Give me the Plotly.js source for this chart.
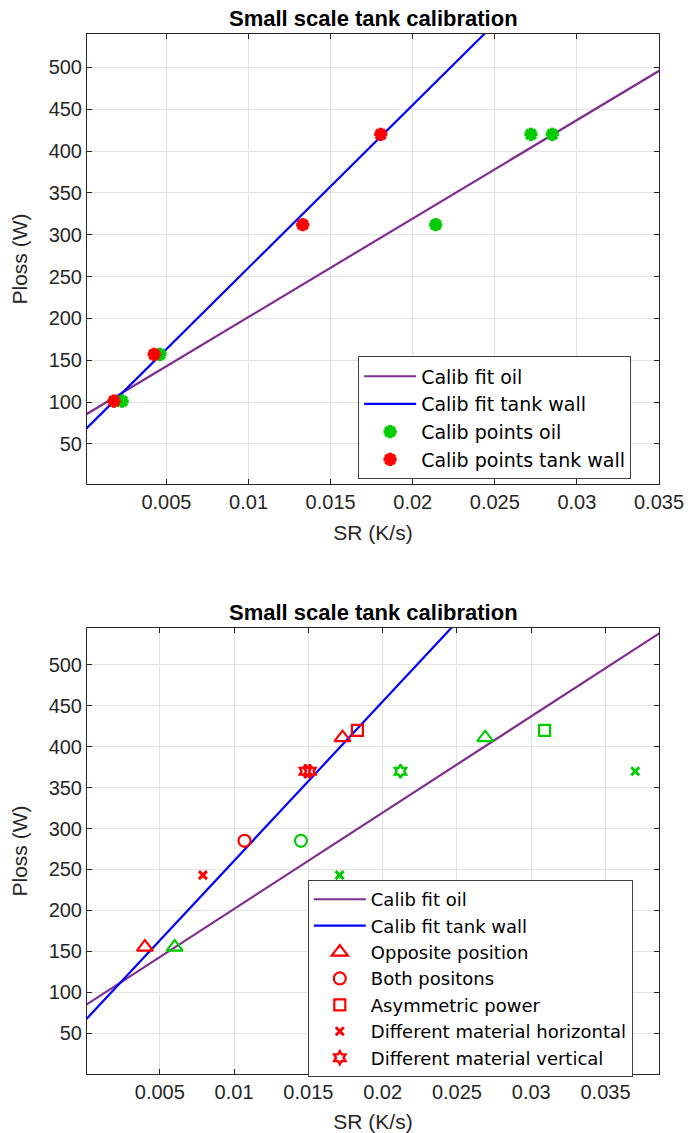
<!DOCTYPE html>
<html>
<head>
<meta charset="utf-8">
<script src="https://cdn.plot.ly/plotly-3.0.1.min.js"></script>
<style>html,body{margin:0;padding:0;background:#fff;}#chart{width:699px;height:1133px;}</style>
</head>
<body>
<div id="chart"></div>
<script>
// ---- Fit parameters (Ploss = intercept + slope * SR) ----
const fitNames = ['Calib fit oil', 'Calib fit tank wall'];
const fitIntercept = [84, 66];
const fitSlope = [11770, 19460];
const fitXSpan = [0, 0.04];

// ---- Top chart: calibration points ----
const calibOilSR = [0.0023, 0.0046, 0.0214, 0.0272, 0.0285];
const calibOilP  = [101, 157, 312, 420, 420];
const calibWallSR = [0.0018, 0.00425, 0.0133, 0.01805];
const calibWallP  = [101, 157, 312, 420];

// ---- Bottom chart: validation points (tank wall = red, oil = green) ----
const oppWallSR = [0.0040, 0.0173]; const oppWallP = [155, 411];
const oppOilSR  = [0.0060, 0.0269]; const oppOilP  = [155, 411];
const bothWallSR = [0.0107]; const bothWallP = [285];
const bothOilSR  = [0.0145]; const bothOilP  = [285];
const asymWallSR = [0.0183]; const asymWallP = [420];
const asymOilSR  = [0.0309]; const asymOilP  = [420];
const horWallSR = [0.0079]; const horWallP = [243];
const horOilSR  = [0.0171, 0.0370]; const horOilP  = [243, 370];
const vertWallSR = [0.0148, 0.0151]; const vertWallP = [370, 370];
const vertOilSR  = [0.0212]; const vertOilP  = [370];

const xTicks = [0.005, 0.01, 0.015, 0.02, 0.025, 0.03, 0.035];
const xTickText = ['0.005', '0.01', '0.015', '0.02', '0.025', '0.03', '0.035'];
const yTicks = [50, 100, 150, 200, 250, 300, 350, 400, 450, 500];

const titleText = 'Small scale tank calibration';
const xTitle = 'SR (K/s)';
const yTitle = 'Ploss (W)';

const purple = '#7E2F8E', blue = '#0000FF', red = '#FF0000', green = '#00CC00';
const FONT = 'Liberation Sans, Arial, Helvetica, sans-serif';
const LFONT = 'DejaVu Sans, Liberation Sans, Arial, sans-serif';
const axisCol = '#262626';

function fitLine(i, xa, ya, legend, show) {
  const xs = fitXSpan.slice();
  const ys = xs.map(x => fitIntercept[i] + fitSlope[i] * x);
  return {x: xs, y: ys, mode: 'lines', name: fitNames[i], xaxis: xa, yaxis: ya,
    line: {color: i === 0 ? purple : blue, width: 2.2}, legend: legend, showlegend: show,
    legendgroup: legend + 'g' + i, hoverinfo: 'skip'};
}
function pts(x, y, name, sym, col, size, xa, ya, legend, show, grp, lw) {
  return {x: x, y: y, mode: 'markers', name: name, xaxis: xa, yaxis: ya, legend: legend,
    showlegend: show, legendgroup: grp, cliponaxis: false,
    marker: {symbol: sym, size: size, color: col, line: {color: col, width: lw}}};
}

const traces = [
  fitLine(0, 'x', 'y', 'legend', true),
  fitLine(1, 'x', 'y', 'legend', true),
  pts(calibOilSR, calibOilP, 'Calib points oil', 'asterisk-open', green, 11, 'x', 'y', 'legend', true, 'tp1', 4),
  pts(calibWallSR, calibWallP, 'Calib points tank wall', 'asterisk-open', red, 11, 'x', 'y', 'legend', true, 'tp2', 4),

  fitLine(0, 'x2', 'y2', 'legend2', true),
  fitLine(1, 'x2', 'y2', 'legend2', true),
  pts(oppWallSR, oppWallP, 'Opposite position', 'triangle-up-open', red, 14, 'x2', 'y2', 'legend2', true, 'b1', 2.2),
  pts(bothWallSR, bothWallP, 'Both positons', 'circle-open', red, 12, 'x2', 'y2', 'legend2', true, 'b2', 2.2),
  pts(asymWallSR, asymWallP, 'Asymmetric power', 'square-open', red, 11, 'x2', 'y2', 'legend2', true, 'b3', 2.2),
  pts(horWallSR, horWallP, 'Different material horizontal', 'x-thin-open', red, 8, 'x2', 'y2', 'legend2', true, 'b4', 3),
  pts(vertWallSR, vertWallP, 'Different material vertical', 'hexagram-open', red, 10, 'x2', 'y2', 'legend2', true, 'b5', 2.4),
  pts(oppOilSR, oppOilP, 'Opposite position', 'triangle-up-open', green, 14, 'x2', 'y2', 'legend2', false, 'b1', 2.2),
  pts(bothOilSR, bothOilP, 'Both positons', 'circle-open', green, 12, 'x2', 'y2', 'legend2', false, 'b2', 2.2),
  pts(asymOilSR, asymOilP, 'Asymmetric power', 'square-open', green, 11, 'x2', 'y2', 'legend2', false, 'b3', 2.2),
  pts(horOilSR, horOilP, 'Different material horizontal', 'x-thin-open', green, 8, 'x2', 'y2', 'legend2', false, 'b4', 3),
  pts(vertOilSR, vertOilP, 'Different material vertical', 'hexagram-open', green, 10, 'x2', 'y2', 'legend2', false, 'b5', 2.4)
];

function xAxis(range, anchor) {
  return {range: range, anchor: anchor, tickvals: xTicks, ticktext: xTickText,
    ticks: 'inside', ticklen: 5, tickcolor: axisCol, showline: true, linecolor: axisCol, linewidth: 1,
    mirror: 'ticks', showgrid: true, gridcolor: '#e2e2e2', gridwidth: 1, zeroline: false,
    tickfont: {family: FONT, size: 20, color: axisCol},
    title: {text: xTitle, font: {family: FONT, size: 21, color: axisCol}, standoff: 13}};
}
function yAxis(range, domain, anchor) {
  return {range: range, domain: domain, anchor: anchor, tickvals: yTicks,
    ticks: 'inside', ticklen: 5, tickcolor: axisCol, showline: true, linecolor: axisCol, linewidth: 1,
    mirror: 'ticks', showgrid: true, gridcolor: '#e2e2e2', gridwidth: 1, zeroline: false,
    tickfont: {family: FONT, size: 20, color: axisCol},
    title: {text: yTitle, font: {family: FONT, size: 21, color: axisCol}, standoff: 15}};
}

const legendCommon = {bgcolor: '#ffffff', bordercolor: '#404040', borderwidth: 1,
  font: {family: LFONT, size: 19, color: '#000'}, tracegroupgap: 0, itemwidth: 52,
  xanchor: 'left', yanchor: 'top', traceorder: 'normal'};

const layout = {
  width: 699, height: 1133,
  margin: {l: 87, r: 40, t: 34, b: 59},
  paper_bgcolor: '#ffffff', plot_bgcolor: '#ffffff',
  showlegend: true,
  xaxis: xAxis([0.00016, 0.035], 'y'),
  yaxis: yAxis([2, 540], [0.5673, 1], 'x'),
  xaxis2: xAxis([0.0001, 0.0386], 'y2'),
  yaxis2: yAxis([0, 545], [0, 0.4288], 'x2'),
  legend: Object.assign({}, legendCommon, {x: 0.474, y: 0.690}),
  legend2: Object.assign({}, legendCommon, {x: 0.386, y: 0.1865, font: {family: LFONT, size: 18, color: '#000'}}),
  annotations: [
    {text: '<b>' + titleText + '</b>', xref: 'paper', yref: 'paper', x: 0.5, y: 1,
     xanchor: 'center', yanchor: 'bottom', yshift: 1, showarrow: false,
     font: {family: FONT, size: 22, color: '#000'}},
    {text: '<b>' + titleText + '</b>', xref: 'paper', yref: 'paper', x: 0.5, y: 0.4288,
     xanchor: 'center', yanchor: 'bottom', yshift: 1, showarrow: false,
     font: {family: FONT, size: 22, color: '#000'}}
  ]
};

Plotly.newPlot('chart', traces, layout, {displayModeBar: false, staticPlot: true});
</script>
</body>
</html>
